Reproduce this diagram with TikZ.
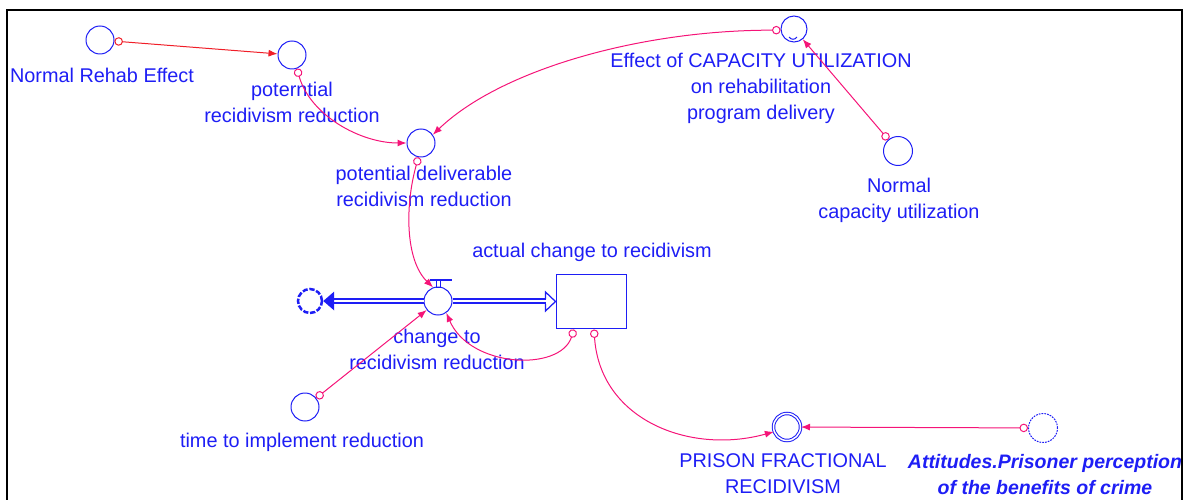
\documentclass[tikz,border=0pt]{standalone}
\usepackage{fontspec}
\setmainfont{Liberation Sans}
\usetikzlibrary{arrows.meta}
\definecolor{vblue}{RGB}{30,30,245}
\definecolor{vpink}{RGB}{245,20,120}
\definecolor{vred}{RGB}{240,30,40}

\begin{document}
\begin{tikzpicture}[x=0.02cm,y=-0.02cm,
  aux/.style={circle,draw=vblue,line width=0.02cm,minimum size=0.56cm,inner sep=0pt},
  lbl/.style={text=vblue,align=center,inner sep=0pt,font=\fontsize{11.3}{14.8}\selectfont},
  link/.style={draw=vpink,line width=0.02cm,{Circle[open,length=0.17cm]}-{Latex[length=0.18cm,width=0.14cm]}},
  pipe/.style={draw=vblue,double=white,double distance=0.05cm,line width=0.035cm}]
\useasboundingbox (0,0) rectangle (1191,500);
\draw [line width=0.04cm] (7,500) -- (7,10) -- (1182,10) -- (1182,500);

\node[aux] (nre) at (100,40) {};
\node[aux] (pot) at (292,55) {};
\node[aux] (pdr) at (421,143) {};
\node[aux,minimum size=0.52cm] (eff) at (794,29) {};
\node[aux,minimum size=0.58cm] (ncu) at (898,151) {};
\node[aux] (valve) at (438,301) {};
\node[circle,draw=vblue,line width=0.05cm,dash pattern=on 3pt off 1pt,minimum size=0.48cm,inner sep=0pt] (cloud) at (310,301) {};
\node[draw=vblue,line width=0.02cm,minimum width=1.42cm,minimum height=1.1cm,inner sep=0pt] (stock) at (591.5,301.5) {};
\node[aux] (tim) at (305,407) {};
\node[aux,double,double distance=0.03cm,minimum size=0.54cm] (pfr) at (787,427) {};
\node[aux,dash pattern=on 1pt off 0.6pt,minimum size=0.58cm] (att) at (1043,428) {};

\node[lbl] (nrelbl) at (102,75) {Normal Rehab Effect};
\node[lbl] (potlbl) at (292,102) {poterntial\\recidivism reduction};
\node[lbl] (pdrlbl) at (424,186) {potential deliverable\\recidivism reduction};
\node[lbl] (efflbl) at (761,88) {Effect of CAPACITY UTILIZATION\\on rehabilitation\\program delivery};
\node[lbl] (nculbl) at (899,200) {Normal\\capacity utilization};
\node[lbl] (stocklbl) at (592,252) {actual change to recidivism};
\node[lbl] (valvelbl) at (437,349) {change to\\recidivism reduction};
\node[lbl] (timlbl) at (302,442) {time to implement reduction};
\node[lbl] (pfrlbl) at (783,474) {PRISON FRACTIONAL\\RECIDIVISM};
\node[lbl,font=\fontsize{11.1}{14.8}\selectfont\bfseries\itshape] (attlbl) at (1045,475) {Attitudes.Prisoner perception\\of the benefits of crime};

\draw [vblue,line width=0.02cm] (789,37) .. controls (791,40) and (795,40) .. (797,37);
\draw [vblue,line width=0.03cm] (430,280) -- (452,280);
\draw [vblue,line width=0.02cm] (436,280) rectangle (440,287);

\draw [pipe,shorten >=0.2cm] (valve.west) -- (cloud.east);
\fill [vblue] (cloud.east) -- ++(11,-9.5) -- ++(0,19) -- cycle;
\draw [pipe,shorten >=0.2cm] (valve.east) -- (valve.east -| stock.west);
\draw [vblue,line width=0.025cm] ([xshift=-0.2cm,yshift=0.05cm]stock.west) -- ++(0,-7) -- (stock.west) -- ++(-10,9.5) -- ++(0,-7);

\draw [link,draw=vred] (nre) -- (pot);
\draw [link] (pot.-70) .. controls (310,115) and (360,143) .. (pdr.180);
\draw [link] (eff.185) .. controls (640,30) and (500,70) .. (pdr.35);
\draw [link] (ncu) -- (eff);
\draw [link] (pdr.-100) .. controls (405,205) and (405,260) .. (valve.110);
\draw [link] ([xshift=-0.35cm]stock.south) .. controls (560,372) and (470,368) .. (valve.-55);
\draw [link] ([xshift=0.05cm]stock.south) .. controls (600,420) and (690,455) .. (pfr.200);
\draw [link] (tim) -- (valve);
\draw [link] (att) -- (pfr);
\end{tikzpicture}
\end{document}
